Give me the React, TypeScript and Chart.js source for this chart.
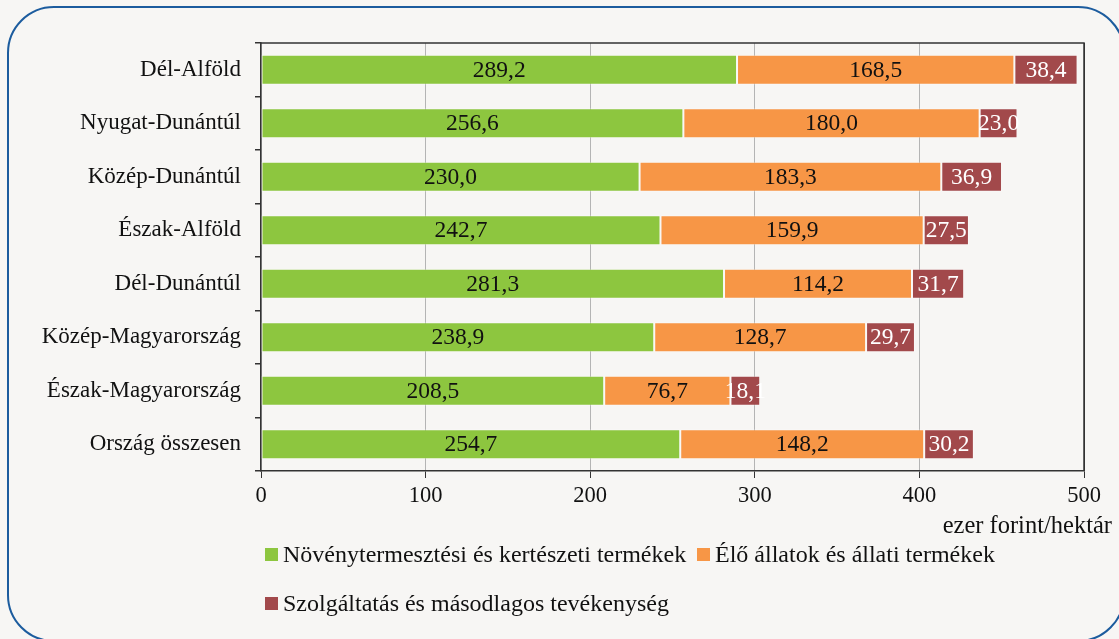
import React, { useEffect, useRef } from "react";
import { Chart, registerables } from "chart.js";

Chart.register(...registerables);

const categories = [
  "Dél-Alföld",
  "Nyugat-Dunántúl",
  "Közép-Dunántúl",
  "Észak-Alföld",
  "Dél-Dunántúl",
  "Közép-Magyarország",
  "Észak-Magyarország",
  "Ország összesen",
];
const cropValues = [289.2, 256.6, 230.0, 242.7, 281.3, 238.9, 208.5, 254.7];
const livestockValues = [168.5, 180.0, 183.3, 159.9, 114.2, 128.7, 76.7, 148.2];
const serviceValues = [38.4, 23.0, 36.9, 27.5, 31.7, 29.7, 18.1, 30.2];
const seriesNames = [
  "Növénytermesztési és kertészeti termékek",
  "Élő állatok és állati termékek",
  "Szolgáltatás és másodlagos tevékenység",
];
const seriesColors = ["#8DC63F", "#F79646", "#A2494B"];
const labelColors = ["#111111", "#111111", "#FFFFFF"];
const xTicks = [0, 100, 200, 300, 400, 500];
const axisTitle = "ezer forint/hektár";

const FONT = "'Liberation Serif', 'Times New Roman', serif";

const dataLabelPlugin = {
  id: "dataLabels",
  afterDatasetsDraw(chart: any) {
    const ctx = chart.ctx;
    ctx.save();
    ctx.font = `23.5px ${FONT}`;
    ctx.textAlign = "center";
    ctx.textBaseline = "middle";
    chart.data.datasets.forEach((ds: any, di: number) => {
      const meta = chart.getDatasetMeta(di);
      meta.data.forEach((el: any, i: number) => {
        const v = ds.data[i];
        const cx = (el.x + el.base) / 2;
        ctx.fillStyle = labelColors[di];
        ctx.fillText(v.toFixed(1).replace(".", ","), cx, el.y + 1);
      });
    });
    ctx.restore();
  },
};

const framePlugin = {
  id: "frame",
  afterDraw(chart: any) {
    const { ctx, chartArea } = chart;
    ctx.save();
    ctx.strokeStyle = "#333333";
    ctx.lineWidth = 1.5;
    ctx.beginPath();
    ctx.moveTo(chartArea.left, chartArea.top);
    ctx.lineTo(chartArea.right, chartArea.top);
    ctx.lineTo(chartArea.right, chartArea.bottom);
    ctx.stroke();
    ctx.font = `24.5px ${FONT}`;
    ctx.fillStyle = "#111111";
    ctx.textAlign = "right";
    ctx.textBaseline = "middle";
    ctx.fillText(axisTitle, 1112, 527);
    ctx.restore();
  },
};

export default function App() {
  const canvasRef = useRef<HTMLCanvasElement | null>(null);

  useEffect(() => {
    document.body.style.margin = "0";
    const canvas = canvasRef.current;
    if (!canvas) return;
    const values = [cropValues, livestockValues, serviceValues];
    const chart = new Chart(canvas, {
      type: "bar",
      data: {
        labels: categories,
        datasets: values.map((d, i) => ({
          label: seriesNames[i],
          data: d,
          backgroundColor: seriesColors[i],
          borderColor: "rgba(255,255,255,0.35)",
          borderWidth: 1,
          borderSkipped: false,
          barPercentage: 0.56,
          categoryPercentage: 1,
        })),
      },
      options: {
        indexAxis: "y",
        animation: false,
        responsive: false,
        devicePixelRatio: 1,
        layout: { padding: { top: 43, right: 35, bottom: 128, left: 0 } },
        plugins: {
          legend: { display: false },
          tooltip: { enabled: false },
        },
        scales: {
          x: {
            stacked: true,
            min: 0,
            max: 500,
            afterFit: (s: any) => {
              s.height = 40;
            },
            afterBuildTicks: (s: any) => {
              s.ticks = xTicks.map((v) => ({ value: v }));
            },
            grid: {
              color: (c: any) => (c.tick && c.tick.value === 500 ? "#333333" : "#B4B4B4"),
              lineWidth: 1,
              tickColor: "#333333",
              tickLength: 7,
              drawTicks: true,
            },
            border: { display: true, color: "#333333", width: 1.5 },
            ticks: {
              color: "#111111",
              font: { family: FONT, size: 22.5 },
              padding: 5,
              maxRotation: 0,
            },
          },
          y: {
            stacked: true,
            afterFit: (s: any) => {
              s.width = 261;
            },
            grid: {
              offset: true,
              drawOnChartArea: false,
              color: "#333333",
              tickLength: 6,
              lineWidth: 1.5,
            },
            border: { display: true, color: "#333333", width: 1.5 },
            ticks: {
              color: "#111111",
              font: { family: FONT, size: 23 },
              padding: 14,
            },
          },
        },
      },
      plugins: [dataLabelPlugin, framePlugin],
    });
    return () => chart.destroy();
  }, []);

  const legendItem = (i: number, left: number, top: number) => (
    <div
      key={i}
      style={{
        position: "absolute",
        left,
        top,
        display: "flex",
        alignItems: "center",
        fontFamily: FONT,
        fontSize: 24,
        color: "#111111",
        whiteSpace: "nowrap",
        lineHeight: "26px",
      }}
    >
      <span
        style={{
          display: "inline-block",
          width: 13,
          height: 13,
          background: seriesColors[i],
          marginRight: 5,
        }}
      />
      {seriesNames[i]}
    </div>
  );

  return (
    <div
      style={{
        position: "relative",
        width: 1119,
        height: 639,
        overflow: "hidden",
        background: "#F7F6F4",
      }}
    >
      <div
        style={{
          position: "absolute",
          left: 7,
          top: 6,
          width: 1118,
          height: 636,
          border: "2px solid #1C5C9E",
          borderRadius: 47,
          boxSizing: "border-box",
        }}
      />
      <canvas
        ref={canvasRef}
        width={1119}
        height={639}
        style={{ position: "absolute", left: 0, top: 0, width: 1119, height: 639 }}
      />
      {legendItem(0, 265, 541)}
      {legendItem(1, 697, 541)}
      {legendItem(2, 265, 590)}
    </div>
  );
}
